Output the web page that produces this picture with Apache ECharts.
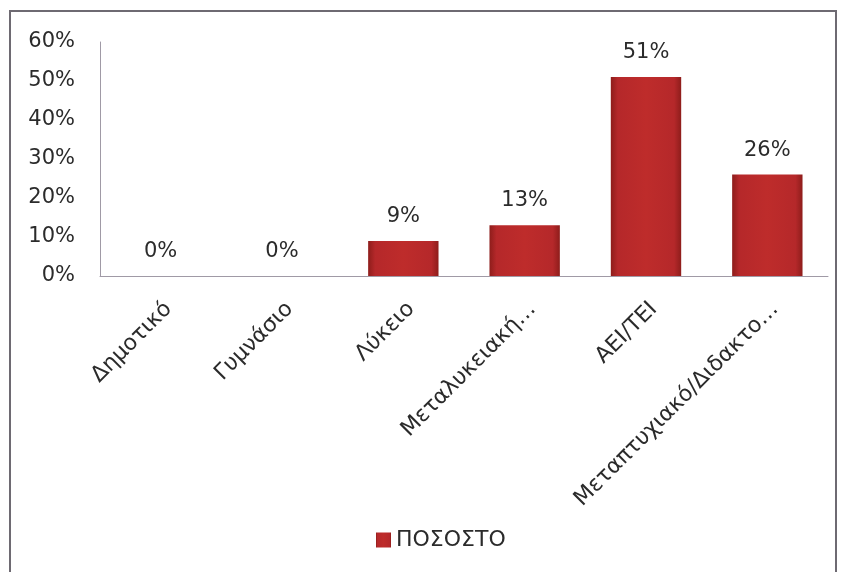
<!DOCTYPE html>
<html>
<head>
<meta charset="utf-8">
<script src="https://cdn.jsdelivr.net/npm/echarts@6/dist/echarts.min.js"></script>
<style>
html,body{margin:0;padding:0;background:#fff;}
#chart{width:843px;height:572px;}
</style>
</head>
<body>
<div id="chart"></div>
<script>
const categories = ['Δημοτικό', 'Γυμνάσιο', 'Λύκειο', 'Μεταλυκειακή…', 'ΑΕΙ/ΤΕΙ', 'Μεταπτυχιακό/Διδακτο…'];
const seriesName = 'ΠΟΣΟΣΤΟ';
const values = [0, 0, 9, 13, 51, 26];
const yTicks = [0, 10, 20, 30, 40, 50, 60];

const FONT = 'DejaVu Sans';
const chart = echarts.init(document.getElementById('chart'));
const barColor = new echarts.graphic.LinearGradient(0, 0, 1, 0, [
  {offset: 0, color: '#8e1d1b'},
  {offset: 0.1, color: '#b5282a'},
  {offset: 0.5, color: '#be2c2b'},
  {offset: 0.9, color: '#b5282a'},
  {offset: 1, color: '#8e1d1b'}
]);
chart.setOption({
  backgroundColor: '#fff',
  animation: false,
  graphic: [{
    type: 'rect',
    shape: {x: 10, y: 11, width: 826, height: 620},
    style: {fill: 'none', stroke: '#6e6a72', lineWidth: 2}
  }],
  grid: {left: 100, right: 15, top: 42, bottom: 296},
  legend: {
    top: 524,
    left: 371,
    icon: 'rect',
    itemWidth: 15,
    itemHeight: 15,
    itemGap: 8,
    textStyle: {fontFamily: FONT, fontSize: 22, color: '#2b2b2b'},
    data: [seriesName]
  },
  xAxis: {
    type: 'category',
    data: categories,
    axisLine: {lineStyle: {color: '#a09aa6', width: 1}},
    axisTick: {show: false},
    axisLabel: {
      rotate: 45,
      interval: 0,
      margin: 22,
      verticalAlign: 'top',
      fontFamily: FONT,
      fontSize: 22,
      color: '#2b2b2b'
    }
  },
  yAxis: {
    type: 'value',
    min: yTicks[0],
    max: yTicks[yTicks.length - 1],
    interval: 10,
    axisLine: {show: true, lineStyle: {color: '#a09aa6', width: 1}},
    axisTick: {show: false},
    splitLine: {show: false},
    axisLabel: {
      margin: 25,
      fontFamily: FONT,
      fontSize: 21,
      color: '#2b2b2b',
      formatter: v => v + '%'
    }
  },
  series: [{
    name: seriesName,
    type: 'bar',
    data: values,
    barWidth: '58%',
    itemStyle: {color: barColor},
    label: {
      show: true,
      position: 'top',
      distance: 14,
      fontFamily: FONT,
      fontSize: 21,
      color: '#2b2b2b',
      formatter: p => p.value + '%'
    }
  }]
});
</script>
</body>
</html>
